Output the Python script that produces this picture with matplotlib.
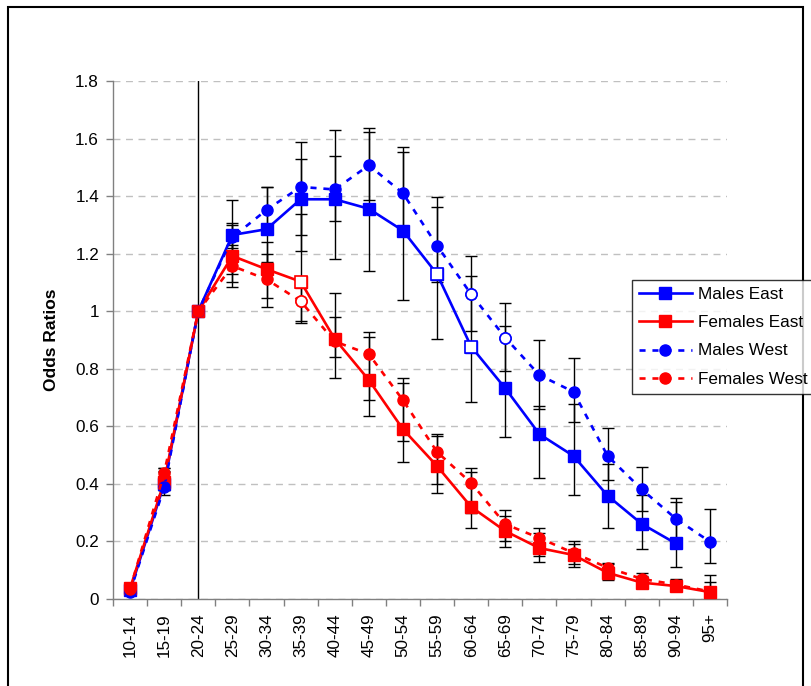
import numpy as np
import matplotlib
matplotlib.use("Agg")
import matplotlib.pyplot as plt
from matplotlib.patches import Rectangle

plt.rcParams['font.family'] = ['Liberation Sans', 'DejaVu Sans']

nan = np.nan

age_groups = ["10-14", "15-19", "20-24", "25-29", "30-34", "35-39", "40-44", "45-49",
              "50-54", "55-59", "60-64", "65-69", "70-74", "75-79", "80-84", "85-89",
              "90-94", "95+"]

# odds ratios
males_east = [0.030, 0.400, 1.0, 1.265, 1.285, 1.389, 1.389, 1.356, 1.280, 1.129,
              0.877, 0.732, 0.573, 0.497, 0.359, 0.261, 0.193, nan]
females_east = [0.037, 0.408, 1.0, 1.192, 1.146, 1.103, 0.904, 0.761, 0.590, 0.462,
                0.320, 0.236, 0.177, 0.153, 0.091, 0.057, 0.045, 0.024]
males_west = [0.025, 0.388, 1.0, 1.257, 1.352, 1.432, 1.423, 1.507, 1.410, 1.228,
              1.059, 0.908, 0.778, 0.720, 0.497, 0.381, 0.279, 0.199]
females_west = [0.035, 0.437, 1.0, 1.157, 1.111, 1.035, 0.895, 0.851, 0.691, 0.511,
                0.403, 0.260, 0.212, 0.160, 0.109, 0.070, 0.050, 0.026]

# confidence limits
males_east_lo = [nan, 0.361, nan, 1.22, 1.17, 1.21, 1.18, 1.14, 1.039, 0.905,
                 0.683, 0.562, 0.42, 0.361, 0.246, 0.175, 0.112, nan]
males_east_hi = [nan, 0.445, nan, 1.307, 1.43, 1.528, 1.54, 1.622, 1.554, 1.363,
                 1.122, 0.949, 0.672, 0.678, 0.47, 0.36, 0.336, nan]
males_west_lo = [nan, 0.379, nan, 1.13, 1.27, 1.265, 1.314, 1.386, 1.28, 1.103,
                 0.931, 0.793, 0.66, 0.616, 0.413, 0.307, 0.2, 0.126]
males_west_hi = [nan, 0.454, nan, 1.386, 1.433, 1.589, 1.63, 1.638, 1.572, 1.398,
                 1.193, 1.027, 0.90, 0.838, 0.593, 0.46, 0.352, 0.313]
females_east_lo = [nan, 0.38, nan, 1.103, 1.047, 0.967, 0.767, 0.635, 0.475, 0.37,
                   0.245, 0.18, 0.13, 0.11, 0.066, 0.041, 0.037, 0.005]
females_east_hi = [nan, 0.44, nan, 1.30, 1.24, 1.337, 1.064, 0.911, 0.75, 0.565,
                   0.44, 0.29, 0.23, 0.19, 0.12, 0.08, 0.065, 0.06]
females_west_lo = [nan, 0.40, nan, 1.083, 1.016, 0.96, 0.84, 0.69, 0.55, 0.40,
                   0.30, 0.20, 0.15, 0.12, 0.08, 0.05, 0.04, 0.01]
females_west_hi = [nan, 0.454, nan, 1.23, 1.20, 1.12, 0.981, 0.927, 0.767, 0.575,
                   0.455, 0.31, 0.245, 0.20, 0.124, 0.091, 0.071, 0.083]

# open markers
males_east_open = [9, 10]
males_west_open = [10, 11]
females_east_open = [5]
females_west_open = [5]

BLUE = "#0000FF"
RED = "#FF0000"
FS = 12.3

fig = plt.figure(figsize=(8.11, 6.86), dpi=100)
ax = fig.add_axes([113 / 811, 1 - 599 / 686, (727 - 113) / 811, (599 - 81) / 686])

x = np.arange(len(age_groups))

series = [
    ("Males East", males_east, males_east_lo, males_east_hi, males_east_open, BLUE, "s", "-"),
    ("Females East", females_east, females_east_lo, females_east_hi, females_east_open, RED, "s", "-"),
    ("Males West", males_west, males_west_lo, males_west_hi, males_west_open, BLUE, "o", "--"),
    ("Females West", females_west, females_west_lo, females_west_hi, females_west_open, RED, "o", "--"),
]

# error bars behind the lines
for name, vals, lo, hi, opn, col, mk, ls in series:
    v = np.array(vals)
    lo = np.array(lo)
    hi = np.array(hi)
    m = ~np.isnan(lo)
    ax.errorbar(x[m], v[m], yerr=[v[m] - lo[m], hi[m] - v[m]], fmt="none",
                ecolor="black", elinewidth=1.0, capsize=4.5, capthick=1.0, zorder=2)

handles = []
for name, vals, lo, hi, opn, col, mk, ls in series:
    v = np.array(vals)
    kw = dict(color=col, lw=1.9, marker=mk, ms=8, mec=col, mfc=col)
    if ls == "--":
        kw["dashes"] = (2.3, 2.6)
    else:
        kw["linestyle"] = "-"
    ln, = ax.plot(x, v, zorder=3, **kw)
    ax.plot(x[opn], v[opn], linestyle="none", marker=mk, ms=8, mec=col, mfc="white",
            mew=1.2, zorder=4)
    handles.append((ln, name))

# reference line at 20-24
ax.axvline(2, color="black", lw=1.0, zorder=1)

ax.set_xlim(-0.5, len(age_groups) - 0.5)
ax.set_ylim(0, 1.8)
ax.set_yticks(np.arange(0, 1.81, 0.2))
ax.set_yticklabels(["0", "0.2", "0.4", "0.6", "0.8", "1", "1.2", "1.4", "1.6", "1.8"])
ax.yaxis.grid(True, color="#c0c0c0", linestyle=(0, (5, 4)), lw=1.0)
ax.set_axisbelow(True)

ax.set_xticks(x)
ax.set_xticklabels(age_groups, rotation=90)
ax.set_xticks(np.arange(-0.5, len(age_groups)), minor=True)
ax.tick_params(axis="x", which="major", length=0, pad=10, labelsize=FS)
ax.tick_params(axis="x", which="minor", length=5, color="#808080", width=1.0)
ax.tick_params(axis="y", length=5, color="#808080", width=1.0, labelsize=FS, pad=5)

for s in ["top", "right"]:
    ax.spines[s].set_visible(False)
for s in ["left", "bottom"]:
    ax.spines[s].set_color("#808080")
    ax.spines[s].set_linewidth(1.0)

ax.set_ylabel("Odds Ratios", fontsize=12.5, fontweight="bold", labelpad=12)

leg = fig.legend([h for h, _ in handles], [n for _, n in handles],
                 loc="upper left", bbox_to_anchor=(632 / 811, 1 - 280 / 686),
                 fontsize=FS, frameon=True, fancybox=False, edgecolor="black",
                 handlelength=3.1, handletextpad=0.35, labelspacing=0.78,
                 borderpad=0.4, borderaxespad=0)
leg.get_frame().set_linewidth(1.0)

# chart area border
fig.patches.append(Rectangle((8 / 811, -0.05), (803 - 8) / 811, 1.05 - 7 / 686,
                             transform=fig.transFigure, fill=False,
                             edgecolor="black", lw=1.5, zorder=0))

fig.savefig("out.png", dpi=100)
